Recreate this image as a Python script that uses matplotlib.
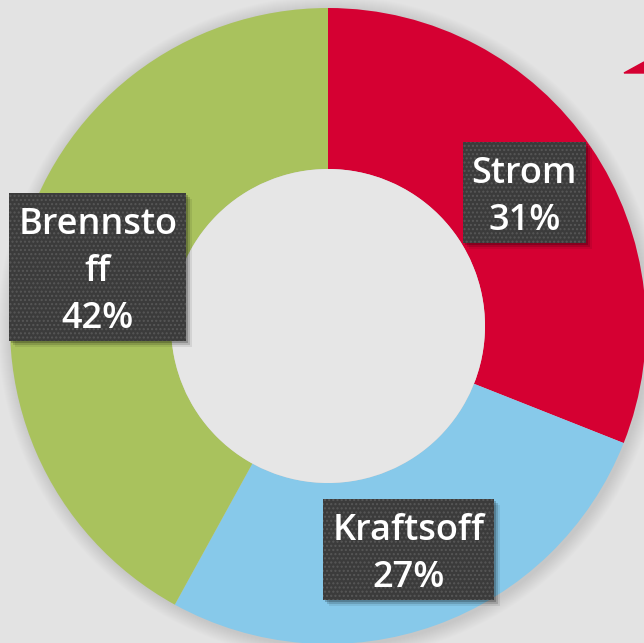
import numpy as np
import matplotlib.pyplot as plt
import matplotlib.transforms as mtransforms
from matplotlib.patches import Polygon, Circle, Rectangle

# data
labels = ["Strom", "Kraftsoff", "Brennsto\nff"]
shares = [31, 27, 42]
colors = ["#d50032", "#87c9ea", "#a9c25d"]

W, H = 644, 643
fig = plt.figure(figsize=(W / 100, H / 100), dpi=100)
fig.patch.set_facecolor("#e3e3e3")
ax = fig.add_axes([0, 0, 1, 1])
ax.set_facecolor("#e3e3e3")

# centre of donut in pixels (from top-left)
cx, cy = 328, 326
r_out, r_in = 318, 157

# soft shadow around the ring
for k in range(14, 0, -1):
    ax.add_patch(Circle((2, -2), r_out + k, color="#9a9a9a", alpha=0.025, lw=0))

wedges, _ = ax.pie(shares, colors=colors, radius=r_out, startangle=90, counterclock=False,
                   wedgeprops=dict(width=r_out - r_in, linewidth=0), center=(0, 0))
ax.set_aspect("auto")
ax.set_xlim(-cx, W - cx)
ax.set_ylim(-(H - cy), cy)
ax.axis("off")

# hole
ax.add_patch(Circle((0, 0), r_in, color="#e6e6e6", lw=0, zorder=3))

# text sits a little lower in the box than matplotlib centres it
txt_trans = mtransforms.offset_copy(ax.transData, fig=fig, x=0, y=-5, units="dots")

r_lab = (r_out + r_in) / 2
texts = []
for w, lab, s in zip(wedges, labels, shares):
    ang = np.deg2rad((w.theta1 + w.theta2) / 2)
    x, y = r_lab * np.cos(ang), r_lab * np.sin(ang)
    t = ax.text(x, y, f"{lab}\n{s}%", color="white", zorder=7, transform=txt_trans,
                ha="center", va="center", fontsize=26, family="Open Sans",
                weight="semibold", linespacing=1.42)
    texts.append((t, x, y))

# boxes sized from the rendered text
fig.canvas.draw()
pad = 9
for t, x, y in texts:
    bb = t.get_window_extent()
    px, py = ax.transData.transform((x, y))
    bw, bh = bb.width + 2 * pad, bb.height + 2 * pad
    x0, y0 = px - bw / 2, py - bh / 2
    for off, a in [(6, 0.08), (4, 0.14), (2, 0.2)]:
        ax.add_patch(Rectangle((x0 + off, y0 - off), bw, bh, transform=None,
                               facecolor="black", alpha=a, lw=0, zorder=4))
    ax.add_patch(Rectangle((x0, y0), bw, bh, transform=None, facecolor="#3b3b3b",
                           lw=0, zorder=5))
    ax.add_patch(Rectangle((x0, y0), bw, bh, transform=None, facecolor="none",
                           edgecolor="#575757", lw=0, hatch="....", zorder=6))

# red corner marker at top right
fig.patches.append(Polygon([(624 / W, 1 - 73 / H), (1, 1 - 62 / H), (1, 1 - 73 / H)],
                           closed=True, transform=fig.transFigure, color="#d50032"))

fig.savefig("out.png", dpi=100, facecolor=fig.get_facecolor())
